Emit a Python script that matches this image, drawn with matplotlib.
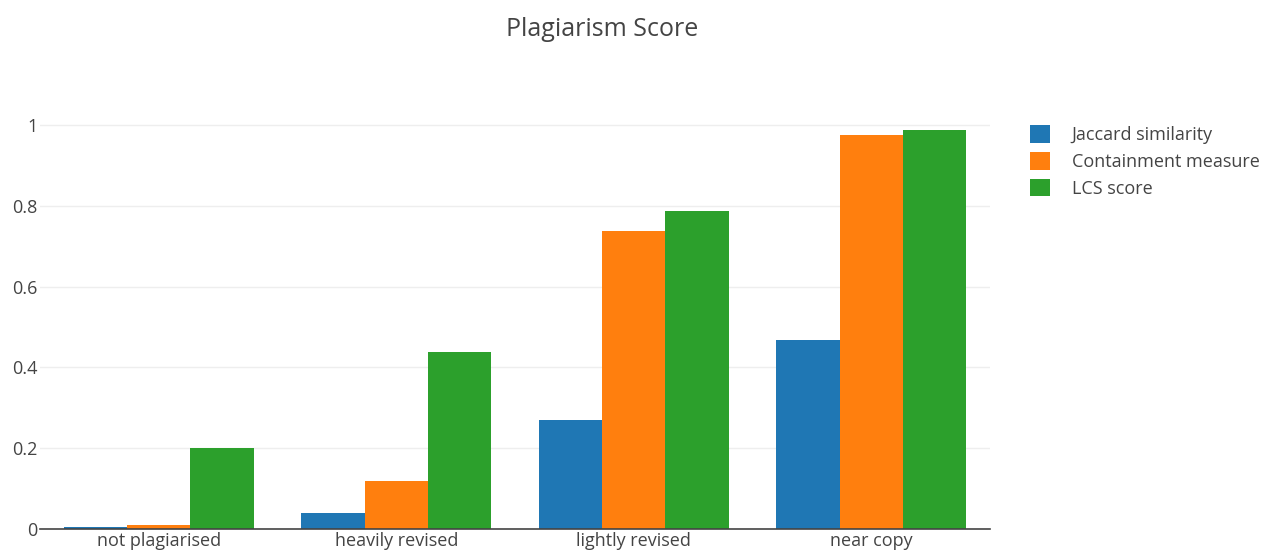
import numpy as np
import matplotlib
matplotlib.use("Agg")
import matplotlib.pyplot as plt
from matplotlib.patches import Patch

plt.rcParams['font.family'] = ['Open Sans', 'DejaVu Sans']

categories = ['not plagiarised', 'heavily revised', 'lightly revised', 'near copy']
series_names = ['Jaccard similarity', 'Containment measure', 'LCS score']
jaccard = [0.005, 0.04, 0.27, 0.468]
containment = [0.01, 0.119, 0.738, 0.975]
lcs = [0.2, 0.438, 0.787, 0.988]
colors = ['#1f77b4', '#ff7f0e', '#2ca02c']
y_ticks = [0, 0.2, 0.4, 0.6, 0.8, 1]
y_labels = ['0', '0.2', '0.4', '0.6', '0.8', '1']

fig = plt.figure(figsize=(12.69, 5.55), dpi=100)
ax = fig.add_axes([40 / 1269, 1 - 529 / 555, 950 / 1269, 424 / 555])

x = np.arange(len(categories))
width = 0.8 / 3
for i, (vals, name) in enumerate(zip([jaccard, containment, lcs], series_names)):
    ax.bar(x + (i - 1) * width, vals, width, color=colors[i], label=name, zorder=3)

ax.set_xlim(-0.5, len(categories) - 0.5)
ax.set_ylim(0, 1.0495)
ax.set_yticks(y_ticks)
ax.set_yticklabels(y_labels)
ax.set_xticks(x)
ax.set_xticklabels(categories)
ax.tick_params(axis='both', length=0, labelsize=13, colors='#444444')
ax.tick_params(axis='y', pad=2)
ax.tick_params(axis='x', pad=2)
ax.grid(axis='y', color='#eeeeee', linewidth=1, zorder=0)
for s in ['top', 'right', 'left']:
    ax.spines[s].set_visible(False)
ax.spines['bottom'].set_color('#444444')
ax.spines['bottom'].set_linewidth(1.2)
ax.spines['bottom'].set_zorder(4)

fig.text(602 / 1269, 1 - 30 / 555, 'Plagiarism Score', ha='center', va='center',
         fontsize=18, color='#444444')

handles = [Patch(facecolor=c, label=n) for c, n in zip(colors, series_names)]
fig.legend(handles=handles, loc='upper left', bbox_to_anchor=(1014 / 1269, 1 - 109 / 555),
           frameon=False, fontsize=13, handlelength=1.1, handleheight=1.1,
           handletextpad=1.2, labelspacing=0.45, labelcolor='#444444')

fig.savefig('out.png', dpi=100, facecolor='white')
